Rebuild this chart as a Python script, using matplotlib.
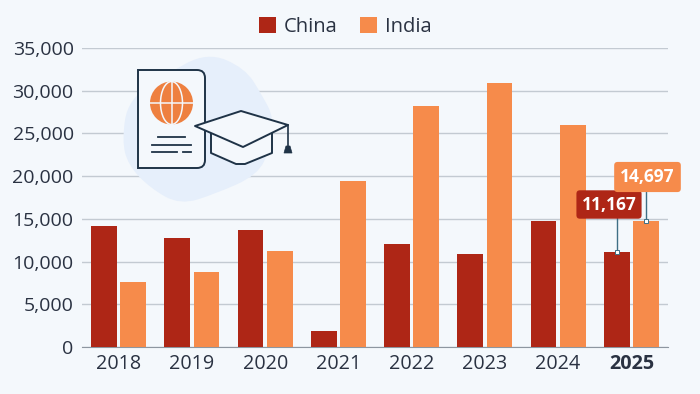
import numpy as np
import matplotlib
matplotlib.use('Agg')
import matplotlib.pyplot as plt
from matplotlib.patches import Polygon, Circle, Ellipse, PathPatch
from matplotlib.path import Path

years = ['2018', '2019', '2020', '2021', '2022', '2023', '2024', '2025']
china = [14200, 12800, 13700, 1900, 12000, 10900, 14700, 11167]
india = [7600, 8800, 11200, 19400, 28200, 30900, 26000, 14697]
yticks = [0, 5000, 10000, 15000, 20000, 25000, 30000, 35000]

BG = '#f4f8fc'
RED = '#ae2616'
ORANGE = '#f68b4b'
TEXT = '#2a3242'
NAVY = '#1f3347'
GRID = '#c3cad2'
STEM = '#3f6f86'

plt.rcParams['font.family'] = ['Open Sans', 'DejaVu Sans']

fig = plt.figure(figsize=(7, 3.94), dpi=100, facecolor=BG)
W, H = 700, 394
ax = fig.add_axes([82 / W, 1 - 347 / H, 586 / W, 299 / H], facecolor=BG)

# Bars
x = np.arange(len(years))
bw = 0.35
ax.bar(x - 0.2, china, bw, color=RED, label='China', zorder=3)
ax.bar(x + 0.2, india, bw, color=ORANGE, label='India', zorder=3)

ax.set_xlim(-0.5, 7.5)
ax.set_ylim(0, 35000)
ax.set_yticks(yticks)
ax.set_yticklabels([f'{v:,}' for v in yticks], fontsize=14, color=TEXT)
ax.set_xticks(x)
ax.set_xticklabels(years, fontsize=14.2, color=TEXT)
ax.get_xticklabels()[-1].set_fontweight('bold')
ax.tick_params(axis='both', length=0)
ax.tick_params(axis='x', pad=5)
ax.tick_params(axis='y', pad=6)
ax.grid(axis='y', color=GRID, linewidth=1, zorder=0)
ax.set_axisbelow(True)
for s in ['top', 'right', 'left']:
    ax.spines[s].set_visible(False)
ax.spines['bottom'].set_color('#8d96a0')

# Legend
fig.legend(loc='upper center', bbox_to_anchor=(345.5 / W, 1 + 1 / H), ncol=2, frameon=False,
           fontsize=14.5, labelcolor=TEXT, handlelength=0.85, handleheight=0.85,
           handletextpad=0.4, columnspacing=1.1)

# Stems for last year
ax.plot([6.8, 6.8], [china[7], 15500], color=STEM, lw=1, zorder=4)
ax.plot([7.2, 7.2], [india[7], 19000], color=STEM, lw=1, zorder=4)
ax.plot(6.8, china[7], 's', ms=3.5, mfc='white', mec=STEM, mew=0.7, zorder=5)
ax.plot(7.2, india[7], 's', ms=3.5, mfc='white', mec=STEM, mew=0.7, zorder=5)

# Overlay in pixel coordinates of the picture, for the icon and callouts
ic = fig.add_axes([0, 0, 1, 1], facecolor='none')
ic.set_xlim(0, W)
ic.set_ylim(H, 0)
ic.axis('off')
ic.set_zorder(2)

ic.text(609, 204.5, f'{china[7]:,}', ha='center', va='center', fontsize=12.5, fontweight='bold',
        color='white', bbox=dict(boxstyle='round,pad=0.3,rounding_size=0.2', fc=RED, ec='none'))
ic.text(647.5, 177, f'{india[7]:,}', ha='center', va='center', fontsize=12.5, fontweight='bold',
        color='white', bbox=dict(boxstyle='round,pad=0.35,rounding_size=0.2', fc=ORANGE, ec='none'))

# Blob behind the icon
blob = [(122, 140), (128, 100), (165, 75), (207, 52), (245, 68), (262, 95), (274, 118),
        (270, 148), (258, 175), (215, 194), (180, 205), (150, 188), (128, 165)]
verts = [((blob[-1][0] + blob[0][0]) / 2, (blob[-1][1] + blob[0][1]) / 2)]
codes = [Path.MOVETO]
for i, p in enumerate(blob):
    q = blob[(i + 1) % len(blob)]
    verts += [p, ((p[0] + q[0]) / 2, (p[1] + q[1]) / 2)]
    codes += [Path.CURVE3, Path.CURVE3]
ic.add_patch(PathPatch(Path(verts, codes), fc='#e6effb', ec='none'))

# Document
doc = Path([(138, 70), (197, 70), (205, 70), (205, 78), (205, 160), (205, 168), (197, 168), (138, 168), (138, 70)],
           [Path.MOVETO, Path.LINETO, Path.CURVE3, Path.CURVE3, Path.LINETO, Path.CURVE3, Path.CURVE3,
            Path.LINETO, Path.CLOSEPOLY])
ic.add_patch(PathPatch(doc, fc=BG, ec=NAVY, lw=1.4))
ic.add_patch(Circle((171.5, 103), 21.5, fc='#ee8040', ec='none'))
ic.plot([150, 193], [103, 103], color=BG, lw=1.1)
ic.plot([171.5, 171.5], [81.5, 124.5], color=BG, lw=1.1)
ic.add_patch(Ellipse((171.5, 103), 22, 43, fc='none', ec=BG, lw=1.1))
ic.plot([158, 185], [137, 137], color=NAVY, lw=1.3)
ic.plot([152, 191], [145, 145], color=NAVY, lw=1.3)
ic.plot([152, 177], [152, 152], color=NAVY, lw=1.3)
ic.plot([183, 191], [152, 152], color=NAVY, lw=1.3)

# Graduation cap
ic.add_patch(Polygon([(211, 130), (211, 153), (236, 164), (245, 164), (272, 153), (272, 130)],
                     closed=True, fc=BG, ec=NAVY, lw=1.4, joinstyle='round'))
ic.add_patch(Polygon([(195, 126), (241, 111), (288, 125), (243, 147)], closed=True,
                     fc=BG, ec=NAVY, lw=1.4, joinstyle='round'))
ic.plot([288, 288], [125, 148], color=NAVY, lw=1.2)
ic.add_patch(Polygon([(284, 153), (286, 146), (290, 146), (292, 153)], closed=True, fc=NAVY, ec=NAVY, lw=0.5))

fig.savefig('out.png', dpi=100, facecolor=BG)
